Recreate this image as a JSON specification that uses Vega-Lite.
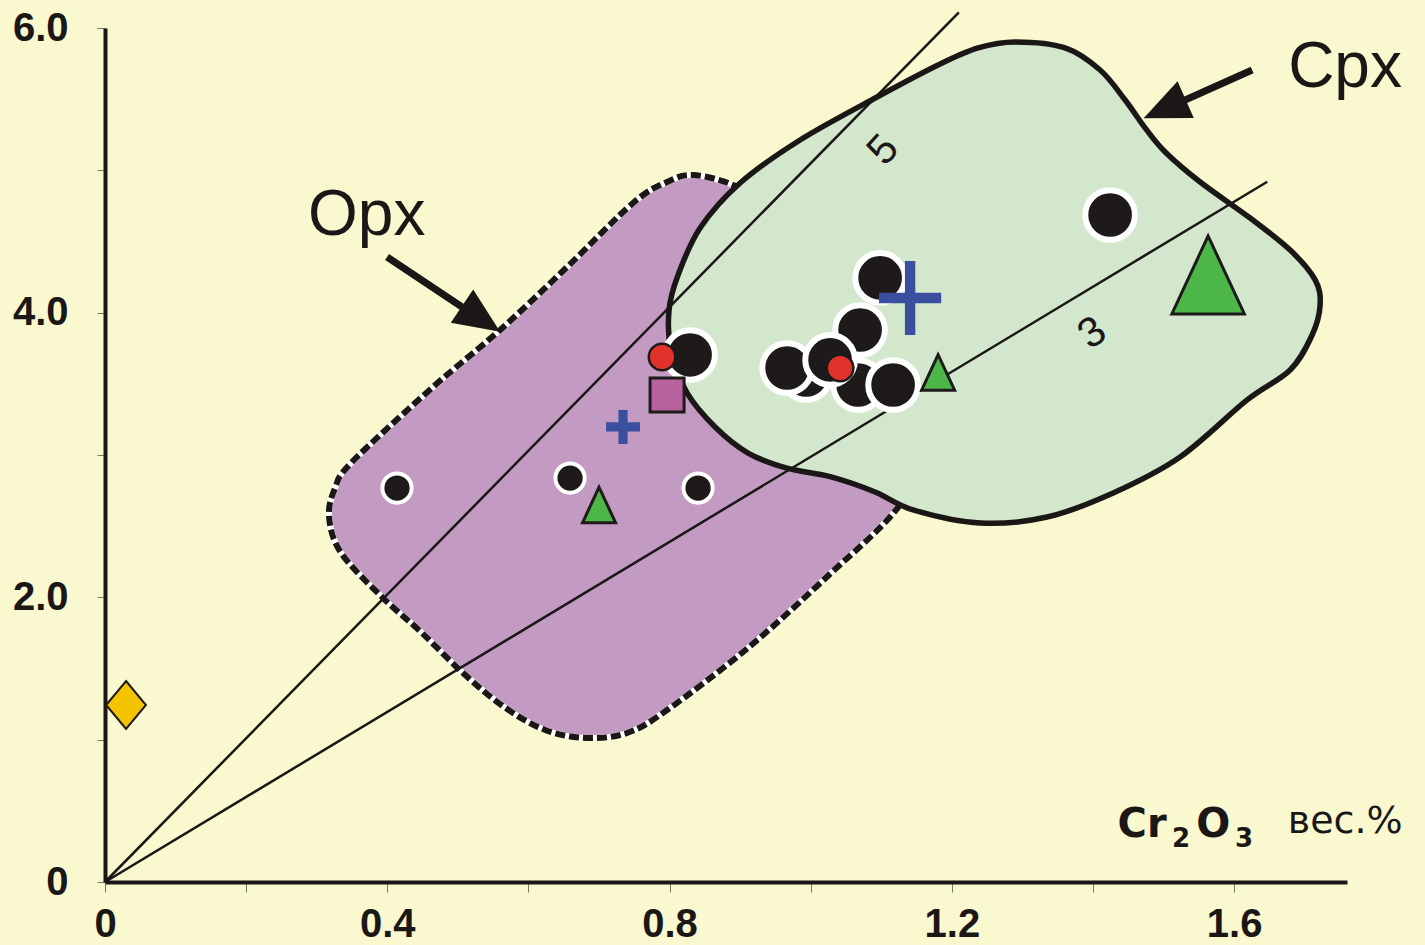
{
  "$schema": "https://vega.github.io/schema/vega-lite/v6.json",
  "width": 1242,
  "height": 854,
  "autosize": {"type": "none"},
  "padding": {"left": 105, "top": 28, "right": 78, "bottom": 63},
  "background": "#F9F8CE",
  "config": {"view": {"stroke": null}, "font": "Liberation Sans"},
  "datasets": {
    "opx": [
      {"i": 1, "x": 0.8333, "y": 4.967}, {"i": 2, "x": 0.89, "y": 4.897}, {"i": 3, "x": 0.9283, "y": 4.757},
      {"i": 4, "x": 1.0558, "y": 4.159}, {"i": 5, "x": 1.1621, "y": 3.632}, {"i": 6, "x": 1.1905, "y": 3.351},
      {"i": 7, "x": 1.1692, "y": 3.035}, {"i": 8, "x": 1.121, "y": 2.614}, {"i": 9, "x": 1.0289, "y": 2.171},
      {"i": 10, "x": 0.9127, "y": 1.651}, {"i": 11, "x": 0.7965, "y": 1.208}, {"i": 12, "x": 0.7398, "y": 1.047},
      {"i": 13, "x": 0.6817, "y": 1.012}, {"i": 14, "x": 0.6236, "y": 1.068}, {"i": 15, "x": 0.5655, "y": 1.23},
      {"i": 16, "x": 0.5074, "y": 1.468}, {"i": 17, "x": 0.4493, "y": 1.749}, {"i": 18, "x": 0.3926, "y": 2.002},
      {"i": 19, "x": 0.3345, "y": 2.312}, {"i": 20, "x": 0.3175, "y": 2.564}, {"i": 21, "x": 0.326, "y": 2.768},
      {"i": 22, "x": 0.3501, "y": 2.951}, {"i": 23, "x": 0.4649, "y": 3.478}, {"i": 24, "x": 0.5598, "y": 3.878},
      {"i": 25, "x": 0.6548, "y": 4.321}, {"i": 26, "x": 0.7483, "y": 4.771}, {"i": 27, "x": 0.7965, "y": 4.918}
    ],
    "cpx": [
      {"i": 1, "x": 1.2897, "y": 5.902}, {"i": 2, "x": 1.3605, "y": 5.86}, {"i": 3, "x": 1.4101, "y": 5.705},
      {"i": 4, "x": 1.4456, "y": 5.494}, {"i": 5, "x": 1.4739, "y": 5.298}, {"i": 6, "x": 1.5023, "y": 5.129},
      {"i": 7, "x": 1.5519, "y": 4.918}, {"i": 8, "x": 1.6227, "y": 4.665}, {"i": 9, "x": 1.6794, "y": 4.44},
      {"i": 10, "x": 1.7149, "y": 4.23}, {"i": 11, "x": 1.7219, "y": 4.054}, {"i": 12, "x": 1.7106, "y": 3.843},
      {"i": 13, "x": 1.6794, "y": 3.597}, {"i": 14, "x": 1.6185, "y": 3.387}, {"i": 15, "x": 1.5235, "y": 2.986},
      {"i": 16, "x": 1.4286, "y": 2.733}, {"i": 17, "x": 1.335, "y": 2.564}, {"i": 18, "x": 1.2401, "y": 2.522},
      {"i": 19, "x": 1.1451, "y": 2.614}, {"i": 20, "x": 1.0913, "y": 2.74}, {"i": 21, "x": 1.0289, "y": 2.846},
      {"i": 22, "x": 0.9651, "y": 2.909}, {"i": 23, "x": 0.9113, "y": 3.014}, {"i": 24, "x": 0.8645, "y": 3.197},
      {"i": 25, "x": 0.8248, "y": 3.436}, {"i": 26, "x": 0.8022, "y": 3.724}, {"i": 27, "x": 0.7993, "y": 4.019},
      {"i": 28, "x": 0.8121, "y": 4.265}, {"i": 29, "x": 0.8433, "y": 4.595}, {"i": 30, "x": 0.9, "y": 4.911},
      {"i": 31, "x": 0.985, "y": 5.213}, {"i": 32, "x": 1.0941, "y": 5.515}, {"i": 33, "x": 1.1834, "y": 5.747},
      {"i": 34, "x": 1.2372, "y": 5.86}
    ],
    "ratios": [
      {"ratio": "5", "x": 0, "y": 0}, {"ratio": "5", "x": 1.21, "y": 6.11},
      {"ratio": "3", "x": 0, "y": 0}, {"ratio": "3", "x": 1.647, "y": 4.92}
    ],
    "arrows": [
      {"arrow": "Opx", "part": "shaft", "x": 0.3997, "y": 4.391},
      {"arrow": "Opx", "part": "shaft", "x": 0.506, "y": 4.04},
      {"arrow": "Opx", "part": "head", "x": 0.5329, "y": 3.956},
      {"arrow": "Cpx", "part": "shaft", "x": 1.6256, "y": 5.705},
      {"arrow": "Cpx", "part": "shaft", "x": 1.5306, "y": 5.494},
      {"arrow": "Cpx", "part": "head", "x": 1.5016, "y": 5.431}
    ],
    "texts": [
      {"role": "phase", "text": "Opx", "x": 0.2877, "y": 4.546},
      {"role": "phase", "text": "Cpx", "x": 1.6766, "y": 5.586},
      {"role": "ratio5", "text": "5", "x": 1.1026, "y": 5.143},
      {"role": "ratio3", "text": "3", "x": 1.3988, "y": 3.857},
      {"role": "formula", "text": "Cr", "x": 1.4697, "y": 0.316},
      {"role": "formula", "text": "O", "x": 1.5703, "y": 0.316},
      {"role": "sub", "text": "2", "x": 1.5249, "y": 0.246},
      {"role": "sub", "text": "3", "x": 1.6142, "y": 0.246},
      {"role": "unit", "text": "вес.%", "x": 1.7574, "y": 0.344}
    ],
    "samples": [
      {"marker": "big circle", "x": 0.9935, "y": 3.562},
      {"marker": "big circle", "x": 1.0672, "y": 3.492},
      {"marker": "big circle", "x": 0.9666, "y": 3.611},
      {"marker": "big circle", "x": 1.07, "y": 3.878},
      {"marker": "big circle", "x": 1.0984, "y": 4.244},
      {"marker": "big circle", "x": 1.0275, "y": 3.668},
      {"marker": "big circle", "x": 1.1168, "y": 3.492},
      {"marker": "big circle", "x": 0.8291, "y": 3.703},
      {"marker": "big circle", "x": 1.4243, "y": 4.686},
      {"marker": "small circle", "x": 0.4138, "y": 2.768},
      {"marker": "small circle", "x": 0.659, "y": 2.838},
      {"marker": "small circle", "x": 0.8404, "y": 2.768},
      {"marker": "red circle", "x": 0.7894, "y": 3.689},
      {"marker": "red circle", "x": 1.0417, "y": 3.611},
      {"marker": "square", "x": 0.7965, "y": 3.422},
      {"marker": "small cross", "x": 0.7341, "y": 3.197},
      {"marker": "big cross", "x": 1.1409, "y": 4.103},
      {"marker": "small triangle", "x": 0.7001, "y": 2.649},
      {"marker": "small triangle", "x": 1.1806, "y": 3.58},
      {"marker": "big triangle", "x": 1.5632, "y": 4.265},
      {"marker": "diamond", "x": 0.0298, "y": 1.2436}
    ]
  },
  "encoding": {
    "x": {
      "field": "x", "type": "quantitative",
      "scale": {"domain": [0, 1.76], "nice": false, "zero": false},
      "axis": {
        "values": [0, 0.2, 0.4, 0.6, 0.8, 1.0, 1.2, 1.4, 1.6],
        "labelExpr": "round(datum.value * 10) % 4 == 0 ? (datum.value == 0 ? '0' : format(datum.value, '.1f')) : ''",
        "title": null, "grid": false,
        "domainColor": "#1a1716", "domainWidth": 4,
        "tickColor": "#77776a", "tickWidth": 1, "tickSize": 10,
        "labelFont": "Liberation Sans", "labelFontWeight": "bold", "labelFontSize": 40,
        "labelColor": "#1a1716", "labelPadding": 12, "labelFlush": false, "labelOverlap": false
      }
    },
    "y": {
      "field": "y", "type": "quantitative",
      "scale": {"domain": [0, 6], "nice": false, "zero": false},
      "axis": {
        "values": [0, 1, 2, 3, 4, 5, 6],
        "labelExpr": "datum.value % 2 == 0 ? (datum.value == 0 ? '0' : format(datum.value, '.1f')) : ''",
        "title": null, "grid": false,
        "domainColor": "#1a1716", "domainWidth": 4,
        "tickColor": "#77776a", "tickWidth": 1, "tickSize": 8,
        "labelFont": "Liberation Sans", "labelFontWeight": "bold", "labelFontSize": 40,
        "labelColor": "#1a1716", "labelPadding": 29, "labelFlush": false, "labelOverlap": false
      }
    }
  },
  "layer": [
    {
      "data": {"name": "opx"},
      "mark": {"type": "line", "interpolate": "cardinal-closed", "fill": "#C39BC2", "stroke": "#ffffff", "strokeWidth": 6, "clip": false},
      "encoding": {"order": {"field": "i", "type": "quantitative"}}
    },
    {
      "data": {"name": "opx"},
      "mark": {"type": "line", "interpolate": "cardinal-closed", "stroke": "#1a1716", "strokeWidth": 6, "strokeDash": [10, 4], "clip": false},
      "encoding": {"order": {"field": "i", "type": "quantitative"}}
    },
    {
      "data": {"name": "cpx"},
      "mark": {"type": "line", "interpolate": "cardinal-closed", "fill": "#D2E7CB", "stroke": "#1a1716", "strokeWidth": 5.5, "clip": false},
      "encoding": {"order": {"field": "i", "type": "quantitative"}}
    },
    {
      "data": {"name": "ratios"},
      "mark": {"type": "line", "stroke": "#1a1716", "strokeWidth": 2.5, "clip": false},
      "encoding": {"detail": {"field": "ratio", "type": "nominal"}}
    },
    {
      "data": {"name": "texts"},
      "transform": [{"filter": "datum.role == 'phase'"}],
      "mark": {"type": "text", "align": "left", "baseline": "alphabetic", "font": "Liberation Sans", "fontSize": 64, "color": "#1a1716", "clip": false},
      "encoding": {"text": {"field": "text"}}
    },
    {
      "data": {"name": "texts"},
      "transform": [{"filter": "datum.role == 'ratio5'"}],
      "mark": {"type": "text", "align": "center", "baseline": "middle", "font": "Liberation Sans", "fontSize": 42, "angle": 312, "color": "#1a1716", "clip": false},
      "encoding": {"text": {"field": "text"}}
    },
    {
      "data": {"name": "texts"},
      "transform": [{"filter": "datum.role == 'ratio3'"}],
      "mark": {"type": "text", "align": "center", "baseline": "middle", "font": "Liberation Sans", "fontSize": 42, "angle": 326, "color": "#1a1716", "clip": false},
      "encoding": {"text": {"field": "text"}}
    },
    {
      "data": {"name": "texts"},
      "transform": [{"filter": "datum.role == 'formula'"}],
      "mark": {"type": "text", "align": "center", "baseline": "alphabetic", "font": "DejaVu Sans", "fontWeight": "bold", "fontSize": 40, "color": "#1a1716", "clip": false},
      "encoding": {"text": {"field": "text"}}
    },
    {
      "data": {"name": "texts"},
      "transform": [{"filter": "datum.role == 'sub'"}],
      "mark": {"type": "text", "align": "center", "baseline": "alphabetic", "font": "DejaVu Sans", "fontWeight": "bold", "fontSize": 26, "color": "#1a1716", "clip": false},
      "encoding": {"text": {"field": "text"}}
    },
    {
      "data": {"name": "texts"},
      "transform": [{"filter": "datum.role == 'unit'"}],
      "mark": {"type": "text", "align": "center", "baseline": "alphabetic", "font": "DejaVu Sans", "fontSize": 38, "color": "#1a1716", "clip": false},
      "encoding": {"text": {"field": "text"}}
    },
    {
      "data": {"name": "arrows"},
      "transform": [{"filter": "datum.part == 'shaft'"}],
      "mark": {"type": "line", "stroke": "#1a1716", "strokeWidth": 7, "clip": false},
      "encoding": {"detail": {"field": "arrow", "type": "nominal"}}
    },
    {
      "data": {"name": "arrows"},
      "transform": [{"filter": "datum.part == 'head' && datum.arrow == 'Opx'"}],
      "mark": {"type": "point", "shape": "M1,0L-1,-0.87L-1,0.87Z", "size": 2116, "angle": 34, "filled": true, "fill": "#1a1716", "strokeWidth": 0, "opacity": 1, "clip": false}
    },
    {
      "data": {"name": "arrows"},
      "transform": [{"filter": "datum.part == 'head' && datum.arrow == 'Cpx'"}],
      "mark": {"type": "point", "shape": "M1,0L-1,-0.87L-1,0.87Z", "size": 2116, "angle": 156, "filled": true, "fill": "#1a1716", "strokeWidth": 0, "opacity": 1, "clip": false}
    },
    {
      "data": {"name": "samples"},
      "transform": [{"filter": "datum.marker == 'big circle'"}],
      "mark": {"type": "point", "shape": "circle", "size": 2463, "filled": true, "fill": "#1d1a19", "stroke": "#ffffff", "strokeWidth": 6, "opacity": 1, "clip": false}
    },
    {
      "data": {"name": "samples"},
      "transform": [{"filter": "datum.marker == 'small circle'"}],
      "mark": {"type": "point", "shape": "circle", "size": 855, "filled": true, "fill": "#1d1a19", "stroke": "#ffffff", "strokeWidth": 4, "opacity": 1, "clip": false}
    },
    {
      "data": {"name": "samples"},
      "transform": [{"filter": "datum.marker == 'red circle'"}],
      "mark": {"type": "point", "shape": "circle", "size": 707, "filled": true, "fill": "#E0312B", "stroke": "#1d1a19", "strokeWidth": 2.5, "opacity": 1, "clip": false}
    },
    {
      "data": {"name": "samples"},
      "transform": [{"filter": "datum.marker == 'square'"}],
      "mark": {"type": "point", "shape": "square", "size": 1156, "filled": true, "fill": "#B7619F", "stroke": "#1d1a19", "strokeWidth": 3, "opacity": 1, "clip": false}
    },
    {
      "data": {"name": "samples"},
      "transform": [{"filter": "datum.marker == 'small cross'"}],
      "mark": {"type": "point", "shape": "M-1,-0.27H-0.27V-1H0.27V-0.27H1V0.27H0.27V1H-0.27V0.27H-1Z", "size": 1156, "filled": true, "fill": "#3B4FA0", "strokeWidth": 0, "opacity": 1, "clip": false}
    },
    {
      "data": {"name": "samples"},
      "transform": [{"filter": "datum.marker == 'big cross'"}],
      "mark": {"type": "point", "shape": "M-0.84,-0.14H-0.14V-1H0.14V-0.14H0.84V0.14H0.14V1H-0.14V0.14H-0.84Z", "size": 5476, "filled": true, "fill": "#3B4FA0", "strokeWidth": 0, "opacity": 1, "clip": false}
    },
    {
      "data": {"name": "samples"},
      "transform": [{"filter": "datum.marker == 'small triangle'"}],
      "mark": {"type": "point", "shape": "M0,-1L-0.93,1L0.93,1Z", "size": 1260, "filled": true, "fill": "#4CB748", "stroke": "#1d1a19", "strokeWidth": 3, "opacity": 1, "clip": false}
    },
    {
      "data": {"name": "samples"},
      "transform": [{"filter": "datum.marker == 'big triangle'"}],
      "mark": {"type": "point", "shape": "M0,-1L-0.93,1L0.93,1Z", "size": 6084, "filled": true, "fill": "#4CB748", "stroke": "#1d1a19", "strokeWidth": 3, "opacity": 1, "clip": false}
    },
    {
      "data": {"name": "samples"},
      "transform": [{"filter": "datum.marker == 'diamond'"}],
      "mark": {"type": "point", "shape": "M0,-1L0.83,0L0,1L-0.83,0Z", "size": 2304, "filled": true, "fill": "#F5C400", "stroke": "#1d1a19", "strokeWidth": 2, "opacity": 1, "clip": false}
    }
  ]
}
